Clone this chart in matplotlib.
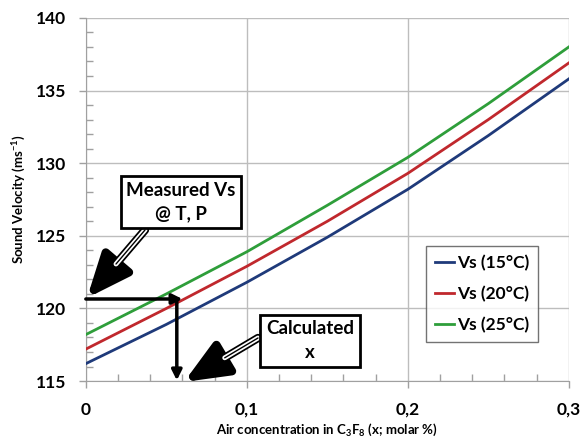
import matplotlib.pyplot as plt
from matplotlib.ticker import MultipleLocator, FixedLocator

plt.rcParams['font.family'] = ['Lato', 'DejaVu Sans']
plt.rcParams['font.weight'] = 'bold'
plt.rcParams['mathtext.fontset'] = 'custom'
plt.rcParams['mathtext.rm'] = 'Lato:bold'
plt.rcParams['mathtext.bf'] = 'Lato:bold'
plt.rcParams['mathtext.it'] = 'Lato:bold'

# data
x = [0, 0.05, 0.1, 0.15, 0.2, 0.25, 0.3]
vs15 = [116.2, 118.9, 121.8, 124.9, 128.2, 131.9, 135.8]
vs20 = [117.2, 120.0, 122.9, 126.0, 129.3, 133.0, 136.9]
vs25 = [118.2, 121.0, 123.9, 127.1, 130.4, 134.1, 138.0]
labels = ['Vs (15°C)', 'Vs (20°C)', 'Vs (25°C)']
colors = ['#1f3a7a', '#c0282d', '#2e9e3a']

# annotation points
meas_v = 120.65
calc_x = 0.0565

fig = plt.figure(figsize=(5.84, 4.37), dpi=100)
ax = fig.add_axes([0.147, 0.128, 0.827, 0.831])

for ys, c, lab in zip([vs15, vs20, vs25], colors, labels):
    ax.plot(x, ys, color=c, lw=2, label=lab, zorder=3)

ax.set_xlim(0, 0.3)
ax.set_ylim(115, 140)
ax.xaxis.set_major_locator(FixedLocator([0, 0.1, 0.2, 0.3]))
ax.set_xticklabels(['0', '0,1', '0,2', '0,3'])
ax.yaxis.set_major_locator(MultipleLocator(5))
ax.xaxis.set_minor_locator(MultipleLocator(0.02))
ax.yaxis.set_minor_locator(MultipleLocator(1))
ax.grid(True, which='major', color='#bdbdbd', lw=1)
ax.tick_params(which='major', length=5, color='#a0a0a0', labelsize=12.5, width=1)
ax.tick_params(axis='x', which='major', pad=10)
ax.tick_params(axis='y', which='major', pad=9)
ax.tick_params(which='minor', direction='in', length=5, color='#a0a0a0', width=1)
for s in ['top', 'right']:
    ax.spines[s].set_visible(False)
for s in ['left', 'bottom']:
    ax.spines[s].set_color('#a0a0a0')

ax.set_ylabel('Sound Velocity (ms$^{-1}$)', fontsize=9.5, fontweight='bold', labelpad=6)
ax.set_xlabel('Air concentration in C$_{3}$F$_{8}$ (x; molar %)', fontsize=9.5,
              fontweight='bold', labelpad=3)

leg = ax.legend(loc='center', bbox_to_anchor=(0.82, 0.24), fontsize=12.5,
                frameon=True, fancybox=False, handlelength=1.1, handletextpad=0.15,
                labelspacing=0.85, borderpad=0.5, borderaxespad=0)
leg.get_frame().set_edgecolor('#505050')
leg.get_frame().set_linewidth(1)

# black measuring arrows
ax.annotate('', xy=(0.06, meas_v), xytext=(0, meas_v),
            arrowprops=dict(arrowstyle='-|>,head_length=0.6,head_width=0.3', lw=2.5,
                            color='black', shrinkA=0, shrinkB=0), zorder=5)
ax.annotate('', xy=(calc_x, 115.05), xytext=(calc_x, meas_v),
            arrowprops=dict(arrowstyle='-|>,head_length=0.6,head_width=0.3', lw=2.5,
                            color='black', shrinkA=0, shrinkB=0), zorder=5)


def striped_arrow(tail, tip, frac):
    ax.annotate('', xy=tip, xytext=tail, xycoords='figure pixels',
                arrowprops=dict(arrowstyle='-|>,head_length=2.6,head_width=1.1', lw=6,
                                color='black', shrinkA=0, shrinkB=0), zorder=6)
    mid = (tail[0] + (tip[0] - tail[0]) * frac, tail[1] + (tip[1] - tail[1]) * frac)
    ax.annotate('', xy=mid, xytext=tail, xycoords='figure pixels',
                arrowprops=dict(arrowstyle='-', lw=3.5, color='white',
                                shrinkA=0, shrinkB=0), zorder=7)
    ax.annotate('', xy=mid, xytext=tail, xycoords='figure pixels',
                arrowprops=dict(arrowstyle='-', lw=1, color='black',
                                shrinkA=0, shrinkB=0), zorder=8)


H = 437
striped_arrow((145, H - 230), (87, H - 298), 0.5)
striped_arrow((258, H - 338), (184, H - 382), 0.45)

fig.text(181 / 584, 1 - 202 / 437, 'Measured Vs\n@ T, P', ha='center', va='center',
         fontsize=13.5, fontweight='bold', linespacing=1.5,
         bbox=dict(boxstyle='square,pad=0.3', fc='white', ec='black', lw=2), zorder=9)
fig.text(310 / 584, 1 - 341 / 437, 'Calculated\nx', ha='center', va='center',
         fontsize=13.5, fontweight='bold', linespacing=1.5,
         bbox=dict(boxstyle='square,pad=0.3', fc='white', ec='black', lw=2), zorder=9)

fig.savefig('out.png', dpi=100)
